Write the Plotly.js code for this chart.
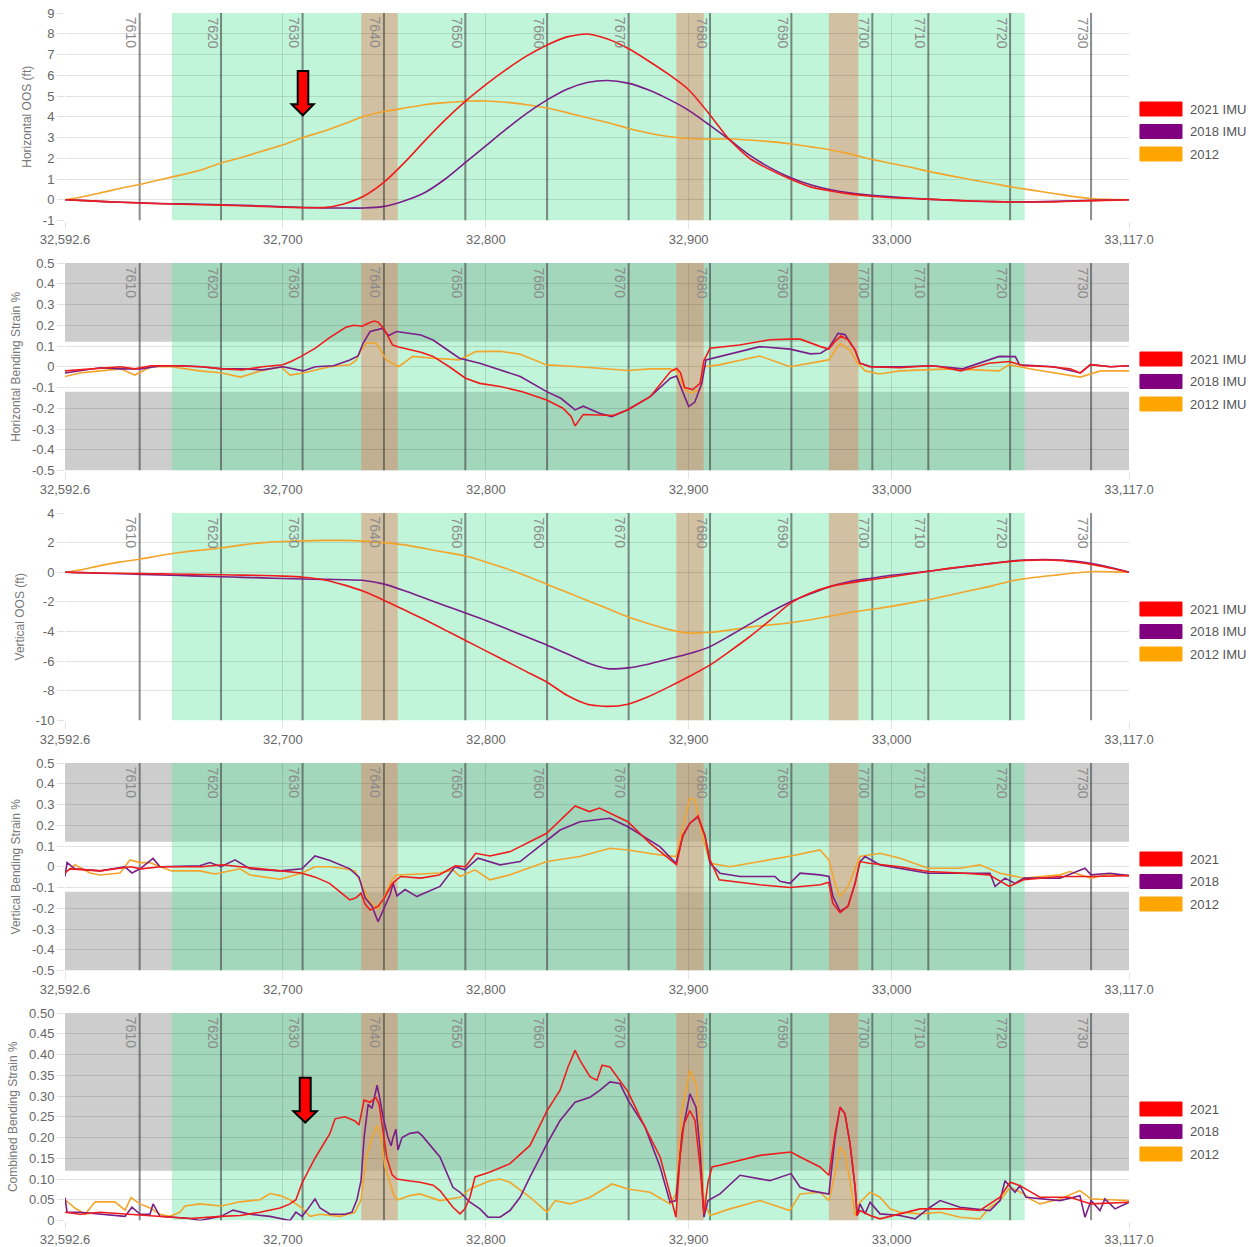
<!DOCTYPE html>
<html>
<head>
<meta charset="utf-8">
<script src="https://cdn.plot.ly/plotly-3.0.1.min.js"></script>
<style>
html,body{margin:0;padding:0;background:#fff;}
#chart{width:1249px;height:1247px;}
</style>
</head>
<body>
<div id="chart"></div>
<script>
// ---------------- DATA ----------------
const xTickVals = [32592.6, 32700, 32800, 32900, 33000, 33117.0];
const xTickText = ['32,592.6', '32,700', '32,800', '32,900', '33,000', '33,117.0'];

const jointX = [32629.4, 32669.5, 32709.7, 32749.8, 32789.9, 32830.2, 32870.4, 32910.5, 32950.6, 32990.5, 33018.1, 33058.4, 33098.3];
const jointLabels = ['7610', '7620', '7630', '7640', '7650', '7660', '7670', '7680', '7690', '7700', '7710', '7720', '7730'];
const greenZone = [32645.3, 33065.6];
const brownStart = [32738.6, 32893.9, 32969.1];
const brownEnd = [32756.6, 32907.4, 32983.6];
const strainLimit = 0.12;

// OOS panels (10 ft stations)
const xStations = [32592.6, 32600, 32610, 32620, 32630, 32640, 32650, 32660, 32670, 32680, 32690, 32700, 32710, 32720, 32730, 32740, 32750, 32760, 32770, 32780, 32790, 32800, 32810, 32820, 32830, 32840, 32850, 32860, 32870, 32880, 32890, 32900, 32910, 32920, 32930, 32940, 32950, 32960, 32970, 32980, 32990, 33000, 33010, 33020, 33030, 33040, 33050, 33060, 33070, 33080, 33090, 33100, 33110, 33117];

const hOos2021 = [0, -0.03, -0.08, -0.12, -0.16, -0.19, -0.22, -0.24, -0.26, -0.29, -0.32, -0.36, -0.38, -0.38, -0.2, 0.18, 0.86, 1.8, 2.85, 3.85, 4.75, 5.55, 6.27, 6.92, 7.45, 7.85, 7.99, 7.75, 7.3, 6.7, 6.05, 5.3, 4.15, 2.9, 2.0, 1.45, 1.0, 0.62, 0.42, 0.27, 0.17, 0.1, 0.06, 0.02, -0.02, -0.06, -0.09, -0.11, -0.11, -0.1, -0.07, -0.04, -0.02, 0];
const hOos2018 = [0, -0.03, -0.08, -0.12, -0.15, -0.18, -0.2, -0.22, -0.24, -0.27, -0.3, -0.34, -0.37, -0.39, -0.4, -0.4, -0.32, -0.05, 0.35, 1.0, 1.8, 2.6, 3.4, 4.15, 4.8, 5.33, 5.65, 5.75, 5.62, 5.3, 4.85, 4.31, 3.62, 2.9, 2.15, 1.55, 1.07, 0.72, 0.48, 0.32, 0.22, 0.14, 0.07, 0.02, -0.03, -0.07, -0.09, -0.1, -0.1, -0.08, -0.05, -0.03, -0.01, 0];
const hOos2012 = [0, 0.12, 0.33, 0.55, 0.75, 0.98, 1.2, 1.45, 1.78, 2.05, 2.35, 2.65, 3.0, 3.3, 3.65, 4.02, 4.25, 4.42, 4.58, 4.68, 4.75, 4.76, 4.7, 4.58, 4.42, 4.2, 3.95, 3.72, 3.45, 3.22, 3.05, 2.95, 2.92, 2.93, 2.88, 2.8, 2.7, 2.55, 2.4, 2.2, 1.95, 1.75, 1.55, 1.33, 1.14, 0.95, 0.78, 0.6, 0.45, 0.3, 0.15, 0.04, 0.01, 0];

const vOos2021 = [0, -0.02, -0.05, -0.07, -0.09, -0.11, -0.13, -0.15, -0.17, -0.19, -0.22, -0.26, -0.33, -0.5, -0.85, -1.3, -1.9, -2.55, -3.2, -3.9, -4.6, -5.3, -6.0, -6.7, -7.4, -8.3, -8.9, -9.05, -8.9, -8.4, -7.75, -7.05, -6.3, -5.35, -4.35, -3.25, -2.1, -1.4, -0.95, -0.7, -0.5, -0.3, -0.1, 0.1, 0.3, 0.45, 0.6, 0.75, 0.82, 0.82, 0.7, 0.5, 0.22, 0];
const vOos2018 = [0, -0.02, -0.06, -0.1, -0.14, -0.18, -0.22, -0.26, -0.3, -0.34, -0.38, -0.42, -0.45, -0.48, -0.5, -0.55, -0.8, -1.25, -1.75, -2.25, -2.75, -3.25, -3.8, -4.35, -4.9, -5.5, -6.1, -6.5, -6.45, -6.2, -5.85, -5.5, -5.05, -4.3, -3.5, -2.7, -2.0, -1.45, -0.95, -0.6, -0.4, -0.2, -0.05, 0.1, 0.28, 0.45, 0.62, 0.78, 0.85, 0.85, 0.75, 0.55, 0.25, 0];
const vOos2012 = [0, 0.15, 0.45, 0.7, 0.9, 1.15, 1.35, 1.5, 1.65, 1.85, 2.0, 2.08, 2.12, 2.15, 2.15, 2.1, 2.0, 1.85, 1.6, 1.35, 1.1, 0.7, 0.25, -0.25, -0.8, -1.35, -1.9, -2.45, -3.0, -3.45, -3.85, -4.1, -4.05, -3.9, -3.7, -3.55, -3.4, -3.2, -2.95, -2.7, -2.5, -2.3, -2.05, -1.8, -1.5, -1.2, -0.9, -0.55, -0.35, -0.2, -0.05, 0.05, 0.03, 0];

// Horizontal bending strain
const hbsX2021 = [32592.6, 32600, 32610, 32620, 32627, 32635, 32645, 32660, 32670, 32680, 32690, 32700, 32704, 32709, 32716, 32723, 32731, 32735, 32739, 32742, 32745, 32747, 32750, 32754, 32757, 32768, 32774, 32782, 32790, 32797, 32807, 32818, 32830, 32838, 32842, 32844, 32848, 32856, 32863, 32870, 32881, 32891, 32894, 32896, 32898, 32902, 32905.6, 32907.5, 32910.5, 32925, 32940, 32950, 32955, 32965, 32969, 32972, 32975, 32978.5, 32982, 32984.4, 32989, 33004, 33019, 33024, 33034, 33048, 33058, 33065, 33078, 33088, 33093, 33098, 33108, 33117];
const hbsY2021 = [-0.02, -0.015, -0.005, 0, -0.01, 0.005, 0.005, 0, -0.01, -0.015, 0, 0.01, 0.025, 0.05, 0.09, 0.14, 0.19, 0.2, 0.195, 0.21, 0.22, 0.215, 0.18, 0.105, 0.095, 0.07, 0.05, 0, -0.055, -0.08, -0.095, -0.12, -0.16, -0.2, -0.24, -0.285, -0.23, -0.232, -0.235, -0.207, -0.144, -0.023, -0.007, -0.03, -0.1, -0.11, -0.08, 0.03, 0.089, 0.105, 0.13, 0.133, 0.133, 0.097, 0.085, 0.121, 0.148, 0.13, 0.08, 0.017, 0, -0.005, 0.005, 0, -0.02, 0.017, 0.025, 0.005, 0, -0.01, -0.03, 0.01, 0, 0.005];
const hbsX2018 = [32592.6, 32600, 32610, 32620, 32630, 32640, 32650, 32660, 32670, 32680, 32690, 32700, 32710, 32716, 32725, 32733, 32737, 32739.5, 32743, 32749, 32752, 32756, 32768, 32774, 32787, 32797, 32807, 32817, 32830, 32837, 32844, 32848, 32856, 32862, 32870, 32881, 32891, 32894, 32898, 32900, 32903, 32906.5, 32908.5, 32915, 32935, 32950, 32960, 32965, 32969, 32973.6, 32977, 32982, 32984.4, 32990, 33005, 33020, 33035, 33053, 33061, 33063, 33080, 33093, 33098, 33108, 33117];
const hbsY2018 = [-0.03, -0.02, -0.005, -0.01, -0.01, 0.005, 0.005, 0, -0.01, -0.01, -0.015, 0, -0.02, 0, 0.005, 0.033, 0.052, 0.113, 0.17, 0.185, 0.15, 0.17, 0.153, 0.129, 0.041, 0.017, -0.015, -0.047, -0.12, -0.152, -0.208, -0.19, -0.224, -0.24, -0.207, -0.144, -0.055, -0.045, -0.144, -0.192, -0.17, -0.079, 0.033, 0.049, 0.097, 0.085, 0.062, 0.065, 0.089, 0.161, 0.155, 0.08, 0.017, 0, 0, 0.005, -0.01, 0.05, 0.049, 0.01, 0, -0.03, 0.01, 0, 0.005];
const hbsX2012 = [32592.6, 32600, 32610, 32620, 32627, 32635, 32645, 32659, 32670, 32679, 32689, 32699, 32703.5, 32710, 32723, 32733, 32736, 32738.5, 32741, 32746, 32751, 32755, 32757, 32764, 32774, 32787, 32795, 32807, 32817, 32830, 32846, 32870, 32881, 32891, 32894, 32898, 32901, 32905.6, 32907.5, 32915, 32935, 32950, 32960, 32969, 32974.6, 32979.5, 32983, 32987, 32994, 33004, 33029, 33053, 33058, 33068, 33093, 33103, 33117];
const hbsY2012 = [-0.047, -0.03, -0.02, -0.01, -0.04, 0, 0, -0.02, -0.03, -0.05, -0.02, 0, -0.04, -0.03, 0, 0.01, 0.03, 0.08, 0.113, 0.113, 0.033, 0.01, 0, 0.05, 0.041, 0.033, 0.073, 0.075, 0.06, 0.009, 0, -0.018, -0.01, -0.01, -0.02, -0.11, -0.126, -0.11, 0, 0.009, 0.052, 0, 0.017, 0.033, 0.113, 0.08, 0.02, -0.02, -0.035, -0.02, -0.01, -0.02, 0.01, -0.01, -0.05, -0.02, -0.02];

// Vertical bending strain
const vbsX2021 = [32592.6, 32595, 32610, 32625, 32630, 32640, 32660, 32670, 32679, 32689, 32699, 32709, 32716, 32723, 32731, 32733, 32736, 32738.5, 32740.5, 32743, 32747, 32750, 32754, 32758, 32768, 32777, 32785, 32790, 32795, 32802, 32812, 32830, 32844, 32851, 32856, 32870, 32881, 32894, 32897, 32900.6, 32904.6, 32908, 32910.5, 32915, 32935, 32950, 32965, 32969, 32971, 32974.6, 32978.5, 32982, 32984.4, 32989, 33004, 33018, 33034, 33048, 33058, 33065, 33083, 33098, 33117];
const vbsY2021 = [-0.03, -0.01, -0.02, 0, -0.01, 0, 0, 0.01, 0, -0.01, -0.02, -0.03, -0.05, -0.08, -0.144, -0.16, -0.15, -0.127, -0.18, -0.208, -0.19, -0.15, -0.08, -0.047, -0.055, -0.04, 0.004, 0, 0.065, 0.052, 0.073, 0.161, 0.293, 0.266, 0.283, 0.217, 0.113, 0.009, 0.15, 0.21, 0.245, 0.15, 0.033, -0.063, -0.087, -0.1, -0.087, -0.075, -0.176, -0.221, -0.19, -0.08, 0.025, 0.017, 0, -0.023, -0.03, -0.039, -0.095, -0.063, -0.047, -0.047, -0.043];
const vbsX2018 = [32592.6, 32593.6, 32597.5, 32610, 32622, 32625.6, 32629.6, 32636, 32639.4, 32659, 32664, 32669.5, 32676.4, 32683.8, 32698.6, 32709.4, 32715.8, 32723.2, 32733, 32737.5, 32740.5, 32743.9, 32746.9, 32749.8, 32752.8, 32754.3, 32756.2, 32760.2, 32766.1, 32767.6, 32777.4, 32784.8, 32789.7, 32796.2, 32807, 32816.9, 32830.2, 32836.6, 32846.4, 32861.2, 32870.1, 32885.9, 32893.7, 32897.2, 32900.6, 32904.6, 32908, 32910.5, 32915.4, 32925.3, 32942.5, 32945, 32949.9, 32954.9, 32964.7, 32969.1, 32971.1, 32974.6, 32978.5, 32982, 32984.4, 32986.9, 32994.3, 33018, 33048.5, 33051, 33055.9, 33060.8, 33065.3, 33083, 33095.3, 33098.3, 33107.6, 33117];
const vbsY2018 = [-0.047, 0.02, -0.01, -0.02, 0, -0.03, -0.01, 0.04, 0, 0.005, 0.02, 0, 0.033, -0.01, -0.02, -0.01, 0.052, 0.03, -0.01, -0.05, -0.15, -0.19, -0.265, -0.2, -0.135, -0.08, -0.14, -0.11, -0.144, -0.136, -0.095, 0, -0.015, 0.041, 0.009, 0.025, 0.13, 0.177, 0.217, 0.234, 0.193, 0.096, 0.017, 0.15, 0.21, 0.24, 0.15, 0.017, -0.031, -0.047, -0.047, -0.07, -0.08, -0.031, -0.039, -0.047, -0.144, -0.215, -0.19, -0.08, 0.025, 0.049, 0.009, -0.031, -0.031, -0.095, -0.055, -0.08, -0.055, -0.055, -0.007, -0.039, -0.031, -0.043];
const vbsX2012 = [32592.6, 32597.5, 32604.9, 32610, 32619.7, 32624.6, 32629.6, 32634.5, 32639.4, 32645.3, 32659.1, 32666.5, 32678.9, 32683.8, 32698.6, 32709.4, 32715.8, 32723.2, 32730.6, 32735.5, 32738.5, 32742.9, 32746.9, 32749.8, 32753.8, 32756.2, 32767.6, 32777.4, 32783.8, 32787.3, 32794.7, 32802.1, 32811.9, 32830.2, 32846.4, 32861.2, 32870.1, 32885.9, 32893.7, 32898.2, 32900.6, 32903.1, 32907, 32910.5, 32920.3, 32935.1, 32950.4, 32964.7, 32969.1, 32972.1, 32974.6, 32978.5, 32982, 32984.4, 32994.3, 33004.2, 33018, 33033.7, 33043.5, 33053.4, 33065.3, 33083, 33087.9, 33098.3, 33107.6, 33117];
const vbsY2012 = [-0.03, 0.01, -0.03, -0.04, -0.03, 0.033, 0.02, 0.02, 0, -0.02, -0.02, -0.035, -0.01, -0.04, -0.06, -0.03, 0, 0, -0.01, -0.02, -0.08, -0.17, -0.2, -0.15, -0.06, -0.04, -0.035, -0.03, -0.015, -0.047, -0.015, -0.063, -0.039, 0.025, 0.049, 0.089, 0.081, 0.057, 0.049, 0.24, 0.33, 0.32, 0.14, 0.017, 0, 0.025, 0.052, 0.081, 0.033, -0.08, -0.144, -0.095, -0.007, 0.049, 0.065, 0.041, -0.007, -0.007, 0.009, -0.031, -0.055, -0.039, -0.023, -0.055, -0.035, -0.043];

// Combined bending strain
const cbsX2021 = [32592.6, 32600, 32609.9, 32624.6, 32639.4, 32654.2, 32669.5, 32678.9, 32688.7, 32698.6, 32703.5, 32706.4, 32709.4, 32715.8, 32723.2, 32725.7, 32730.6, 32735.5, 32737.5, 32740, 32742.9, 32745.9, 32747.4, 32749.3, 32751.3, 32753.8, 32756.2, 32762.6, 32767.6, 32774, 32777.4, 32783.8, 32787.3, 32789.7, 32792.2, 32794.7, 32802.1, 32811.9, 32821.8, 32830.2, 32836.6, 32840.5, 32844, 32846.4, 32851.4, 32854.8, 32857.3, 32861.2, 32870.1, 32876, 32885.9, 32890.8, 32893.7, 32895.7, 32897.7, 32900.6, 32903.1, 32905.6, 32907.5, 32909.5, 32911.5, 32915.4, 32935.1, 32950.4, 32954.9, 32964.7, 32969.1, 32972.1, 32974.6, 32977, 32979.5, 32982, 32983, 32984.4, 32989.4, 32994.3, 33004.2, 33014, 33033.7, 33043.5, 33053.4, 33058.4, 33063.3, 33073.1, 33087.9, 33098.3, 33117];
const cbsY2021 = [0.02, 0.015, 0.02, 0.015, 0.01, 0.005, 0.01, 0.012, 0.02, 0.03, 0.04, 0.05, 0.09, 0.15, 0.21, 0.245, 0.25, 0.24, 0.23, 0.29, 0.285, 0.296, 0.28, 0.22, 0.15, 0.11, 0.1, 0.095, 0.092, 0.085, 0.072, 0.032, 0.016, 0.028, 0.056, 0.105, 0.117, 0.137, 0.181, 0.265, 0.314, 0.37, 0.41, 0.386, 0.346, 0.338, 0.374, 0.37, 0.31, 0.249, 0.153, 0.064, 0.008, 0.153, 0.233, 0.265, 0.241, 0.129, 0.016, 0.092, 0.129, 0.133, 0.157, 0.165, 0.153, 0.129, 0.109, 0.209, 0.273, 0.257, 0.185, 0.08, 0.012, 0.024, 0.012, 0.004, 0.016, 0.028, 0.028, 0.024, 0.056, 0.092, 0.084, 0.056, 0.056, 0.04, 0.044];
const cbsX2018 = [32592.6, 32593.6, 32600, 32609.9, 32622.2, 32625.6, 32629.6, 32634.5, 32636, 32639.4, 32654.2, 32659.1, 32669.5, 32675.4, 32683.8, 32693.6, 32698.6, 32703.5, 32706.4, 32709.4, 32711.9, 32715.8, 32718.3, 32723.2, 32730.6, 32734, 32736.5, 32738.5, 32740, 32742, 32743.9, 32746.4, 32747.9, 32749.3, 32751.8, 32753.3, 32754.3, 32755.7, 32756.7, 32758.7, 32762.6, 32766.6, 32768.5, 32777.4, 32783.8, 32787.3, 32792.2, 32797.1, 32801.1, 32807, 32811.9, 32816.9, 32821.8, 32830.2, 32836.6, 32844, 32851.4, 32856.3, 32861.2, 32866.1, 32870.1, 32878.5, 32885.9, 32890.8, 32893.7, 32896.7, 32900.6, 32903.6, 32905.6, 32907.5, 32909.5, 32915.4, 32925.3, 32940, 32950.4, 32954.9, 32959.8, 32969.1, 32972.1, 32974.6, 32977, 32979.5, 32982, 32983, 32984.4, 32986.9, 32989.4, 32994.3, 33004.2, 33011.6, 33019, 33023.9, 33033.7, 33048.5, 33053.4, 33055.9, 33060.8, 33063.3, 33066.2, 33083, 33092.8, 33095.3, 33098.3, 33102.7, 33105.1, 33110.1, 33117];
const cbsY2018 = [0.055, 0.02, 0.02, 0.015, 0.01, 0.032, 0.015, 0.015, 0.04, 0.01, 0.005, 0, 0.01, 0.025, 0.015, 0.01, 0.005, 0, 0.02, 0.01, 0.025, 0.052, 0.03, 0.015, 0.015, 0.02, 0.05, 0.096, 0.2, 0.28, 0.27, 0.326, 0.29, 0.25, 0.2, 0.18, 0.2, 0.22, 0.17, 0.2, 0.21, 0.213, 0.205, 0.153, 0.08, 0.068, 0.044, 0.028, 0.008, 0.008, 0.024, 0.056, 0.105, 0.185, 0.241, 0.285, 0.297, 0.314, 0.334, 0.33, 0.29, 0.225, 0.129, 0.044, 0.048, 0.209, 0.305, 0.273, 0.169, 0.008, 0.048, 0.064, 0.109, 0.096, 0.113, 0.08, 0.072, 0.064, 0.2, 0.273, 0.257, 0.185, 0.08, 0.012, 0.04, 0.016, 0.044, 0.016, 0.012, 0.004, 0.032, 0.048, 0.032, 0.024, 0.048, 0.096, 0.068, 0.084, 0.056, 0.048, 0.06, 0.008, 0.048, 0.024, 0.052, 0.028, 0.044];
const cbsX2012 = [32592.6, 32597.5, 32602.5, 32607.4, 32617.2, 32622.2, 32625.1, 32629.6, 32634.5, 32639.4, 32644.3, 32649.3, 32651.7, 32659.1, 32669.5, 32678.9, 32688.7, 32693.6, 32698.6, 32703.5, 32709.4, 32713.3, 32718.3, 32728.1, 32735.5, 32738.5, 32741, 32743.9, 32746.4, 32748.3, 32750.3, 32752.8, 32754.7, 32756.7, 32762.6, 32767.6, 32777.4, 32787.3, 32792.2, 32802.1, 32807, 32811.9, 32821.8, 32830.2, 32834.1, 32841.5, 32851.4, 32862.2, 32870.1, 32880.9, 32890.8, 32893.7, 32896.7, 32900.6, 32903.6, 32905.6, 32907.5, 32910.5, 32920.3, 32935.1, 32949.9, 32954.9, 32964.7, 32969.1, 32972.1, 32974.6, 32977, 32979.5, 32982, 32984.4, 32989.4, 32994.3, 32999.2, 33004.2, 33014, 33023.9, 33033.7, 33043.5, 33048.5, 33053.4, 33058.4, 33065.3, 33068.2, 33073.1, 33083, 33092.8, 33098.3, 33107.6, 33117];
const cbsY2012 = [0.05, 0.03, 0.015, 0.045, 0.045, 0.025, 0.055, 0.04, 0.03, 0.015, 0.01, 0.02, 0.035, 0.04, 0.035, 0.045, 0.05, 0.065, 0.06, 0.05, 0.03, 0.01, 0.015, 0.01, 0.02, 0.05, 0.15, 0.2, 0.229, 0.2, 0.13, 0.09, 0.06, 0.05, 0.06, 0.064, 0.048, 0.056, 0.076, 0.096, 0.1, 0.092, 0.056, 0.02, 0.048, 0.04, 0.056, 0.088, 0.076, 0.068, 0.04, 0.064, 0.265, 0.362, 0.33, 0.225, 0.048, 0.012, 0.028, 0.048, 0.024, 0.064, 0.068, 0.048, 0.113, 0.177, 0.161, 0.096, 0.012, 0.044, 0.068, 0.056, 0.028, 0.02, 0.016, 0.02, 0.008, 0.004, 0.032, 0.048, 0.08, 0.064, 0.052, 0.04, 0.052, 0.072, 0.052, 0.05, 0.048];

// tick labels
const oosHTicks = [-1, 0, 1, 2, 3, 4, 5, 6, 7, 8, 9];
const oosVTicks = [-10, -8, -6, -4, -2, 0, 2, 4];
const strainTicks = [-0.5, -0.4, -0.3, -0.2, -0.1, 0, 0.1, 0.2, 0.3, 0.4, 0.5];
const strainTickText = ['-0.5', '-0.4', '-0.3', '-0.2', '-0.1', '0', '0.1', '0.2', '0.3', '0.4', '0.5'];
const combTicks = [0, 0.05, 0.1, 0.15, 0.2, 0.25, 0.3, 0.35, 0.4, 0.45, 0.5];
const combTickText = ['0', '0.05', '0.10', '0.15', '0.20', '0.25', '0.30', '0.35', '0.40', '0.45', '0.50'];

const legend1 = ['2021 IMU', '2018 IMU', '2012'];
const legend2 = ['2021 IMU', '2018 IMU', '2012 IMU'];
const legend3 = ['2021', '2018', '2012'];

// ---------------- BUILD ----------------
const FONT = 'Arial, "Liberation Sans", sans-serif';
const LINE = ['#ee1d1d', '#7a1e88', '#f2a52a'];
const LEG = ['#ff0000', '#800080', '#ffa500'];
const GRID = 'rgba(0,0,0,0.11)';

const panels = [
  {title: 'Horizontal OOS (ft)', range: [-1, 9], tv: oosHTicks, tt: oosHTicks.map(String), band: null, legend: legend1, smooth: true,
   s: [[xStations, hOos2021], [xStations, hOos2018], [xStations, hOos2012]]},
  {title: 'Horizontal Bending Strain %', range: [-0.5, 0.5], tv: strainTicks, tt: strainTickText, band: 'both', legend: legend2, smooth: false,
   s: [[hbsX2021, hbsY2021], [hbsX2018, hbsY2018], [hbsX2012, hbsY2012]]},
  {title: 'Vertical OOS (ft)', range: [-10, 4], tv: oosVTicks, tt: oosVTicks.map(String), band: null, legend: legend2, smooth: true,
   s: [[xStations, vOos2021], [xStations, vOos2018], [xStations, vOos2012]]},
  {title: 'Vertical Bending Strain %', range: [-0.5, 0.5], tv: strainTicks, tt: strainTickText, band: 'both', legend: legend3, smooth: false,
   s: [[vbsX2021, vbsY2021], [vbsX2018, vbsY2018], [vbsX2012, vbsY2012]]},
  {title: 'Combined Bending Strain %', range: [0, 0.5], tv: combTicks, tt: combTickText, band: 'top', legend: legend3, smooth: false,
   s: [[cbsX2021, cbsY2021], [cbsX2018, cbsY2018], [cbsX2012, cbsY2012]]}
];

const FIG_H = 1247, MT = 13, MB = 26;
const PLOT_H = FIG_H - MT - MB; // 1208
const tops = [13, 263, 513, 763, 1013];
const PH = 207.5;
const xRange = [32592.6, 33117.0];

const traces = [];
const shapes = [];
const annotations = [];
const layout = {
  width: 1249, height: FIG_H,
  margin: {l: 65, r: 120, t: MT, b: MB, pad: 0},
  paper_bgcolor: '#ffffff', plot_bgcolor: 'rgba(0,0,0,0)',
  showlegend: false,
  font: {family: FONT, color: '#666'},
  hovermode: false
};

panels.forEach((p, i) => {
  const s = i === 0 ? '' : String(i + 1);
  const xa = 'x' + s, ya = 'y' + s;
  const bottomPx = tops[i] + PH;
  const d0 = Math.max(0, (FIG_H - MB - bottomPx) / PLOT_H);
  const d1 = Math.min(1, (FIG_H - MB - tops[i]) / PLOT_H);
  const yLo = p.range[0], yHi = p.range[1];

  layout['xaxis' + s] = {
    domain: [0, 1], anchor: ya, range: xRange, tickmode: 'array', tickvals: xTickVals, ticktext: xTickText,
    showgrid: true, gridcolor: GRID, gridwidth: 1, zeroline: false, showline: false,
    ticks: 'outside', ticklen: 7, tickcolor: GRID, tickfont: {family: FONT, size: 13, color: '#666'}, fixedrange: true
  };
  layout['yaxis' + s] = {
    domain: [d0, d1], anchor: xa, range: p.range, tickmode: 'array', tickvals: p.tv, ticktext: p.tt,
    showgrid: true, gridcolor: GRID, gridwidth: 1, zeroline: false, showline: false,
    ticks: 'outside', ticklen: 7, tickcolor: GRID, tickfont: {family: FONT, size: 13, color: '#666'},
    title: {text: p.title, font: {family: FONT, size: 12, color: '#777'}, standoff: 8},
    automargin: false, fixedrange: true
  };

  // strain limit bands (gray)
  if (p.band) {
    shapes.push({type: 'rect', layer: 'below', xref: xa, yref: ya, x0: xRange[0], x1: xRange[1], y0: strainLimit, y1: yHi,
      fillcolor: '#cdcdcd', line: {width: 0}});
    if (p.band === 'both') {
      shapes.push({type: 'rect', layer: 'below', xref: xa, yref: ya, x0: xRange[0], x1: xRange[1], y0: yLo, y1: -strainLimit,
        fillcolor: '#cdcdcd', line: {width: 0}});
    }
  }
  // green zone
  shapes.push({type: 'rect', layer: 'below', xref: xa, yref: ya, x0: greenZone[0], x1: greenZone[1], y0: yLo, y1: yHi,
    fillcolor: 'rgba(100,230,160,0.4)', line: {width: 0}});
  // brown bands
  brownStart.forEach((b, k) => {
    shapes.push({type: 'rect', layer: 'below', xref: xa, yref: ya, x0: b, x1: brownEnd[k], y0: yLo, y1: yHi,
      fillcolor: 'rgba(228,128,95,0.45)', line: {width: 0}});
  });
  // joint lines + labels
  jointX.forEach((jx, k) => {
    shapes.push({type: 'line', layer: 'below', xref: xa, yref: ya, x0: jx, x1: jx, y0: yLo, y1: yHi,
      line: {color: 'rgba(70,70,70,0.62)', width: 2}});
    annotations.push({xref: xa, yref: ya + ' domain', x: jx, y: 1, xanchor: 'right', yanchor: 'top', xshift: 2, yshift: -2,
      text: jointLabels[k], textangle: 90, showarrow: false, font: {family: FONT, size: 14, color: '#8a8a8a'}});
  });
  // legend (drawn manually as boxes)
  const centers = [1 - 96 / PH, 1 - 118.5 / PH, 1 - 141 / PH];
  const hh = 7 / PH;
  p.legend.forEach((name, k) => {
    shapes.push({type: 'rect', layer: 'above', xref: 'paper', yref: ya + ' domain', x0: 1.0103, x1: 1.0498, y0: centers[k] - hh, y1: centers[k] + hh,
      fillcolor: LEG[k], line: {color: LEG[k], width: 1}});
    annotations.push({xref: 'paper', yref: ya + ' domain', x: 1.0552, y: centers[k], xanchor: 'left', yanchor: 'middle',
      text: name, showarrow: false, font: {family: FONT, size: 13, color: '#555'}});
  });
  // traces: 2012 first (bottom) -> 2021 last (top)
  [2, 1, 0].forEach(k => {
    traces.push({
      type: 'scatter', mode: 'lines', x: p.s[k][0], y: p.s[k][1], xaxis: xa, yaxis: ya,
      line: {color: LINE[k], width: 1.6, shape: p.smooth ? 'spline' : 'linear', smoothing: 0.6},
      hoverinfo: 'skip'
    });
  });
});

// red callout arrows (panel 1 and panel 5)
shapes.push({type: 'path', layer: 'above', xref: 'x', yref: 'y',
  path: 'M 32707.3 6.21 L 32712.5 6.21 L 32712.5 4.60 L 32715.2 4.60 L 32709.8 4.07 L 32704.3 4.60 L 32707.3 4.60 Z',
  fillcolor: '#ff0000', line: {color: '#000000', width: 2}});
shapes.push({type: 'path', layer: 'above', xref: 'x5', yref: 'y5',
  path: 'M 32708.3 0.344 L 32713.7 0.344 L 32713.7 0.263 L 32716.7 0.263 L 32711.0 0.236 L 32705.2 0.263 L 32708.3 0.263 Z',
  fillcolor: '#ff0000', line: {color: '#000000', width: 2}});

layout.shapes = shapes;
layout.annotations = annotations;

Plotly.newPlot('chart', traces, layout, {displayModeBar: false, staticPlot: true});
</script>
</body>
</html>
